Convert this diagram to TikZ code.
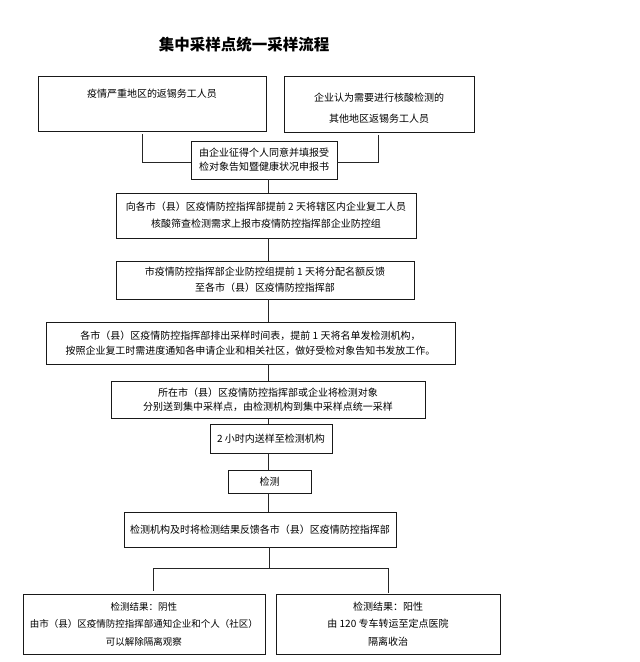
\documentclass[tikz,border=0pt]{standalone}
\usepackage{fontspec}
\setmainfont{Noto Sans CJK SC}
\def\bodyfont#1{\fontsize{10}{#1}\selectfont}
\begin{document}
\begin{tikzpicture}[x=1pt,y=-1pt,
  box/.style={draw=black!90, line width=0.8pt, align=center, inner sep=0pt, text=black, font=\bodyfont{16}},
  link/.style={draw=black!85, line width=0.8pt}]
\useasboundingbox (0,0) rectangle (640,662);
\node[font=\fontsize{15.5}{18}\selectfont\bfseries] (title) at (244,45) {集中采样点统一采样流程};

\node[box, minimum width=228, minimum height=55] (workers) at (152,103.5) {疫情严重地区的返锡务工人员\\\strut};
\node[box, minimum width=190, minimum height=56, font=\bodyfont{21}] (others) at (379,104) {\rule{0pt}{16pt}企业认为需要进行核酸检测的\\其他地区返锡务工人员};
\node[box, minimum width=146, minimum height=38, font=\bodyfont{14}] (consent) at (264,160) {由企业征得个人同意并填报受\\检对象告知暨健康状况申报书};
\node[box, minimum width=300, minimum height=45, font=\bodyfont{17}] (report) at (266,215.5) {向各市（县）区疫情防控指挥部提前 2 天将辖区内企业复工人员\\核酸筛查检测需求上报市疫情防控指挥部企业防控组};
\node[box, minimum width=298, minimum height=38] (quota) at (265,280) {市疫情防控指挥部企业防控组提前 1 天将分配名额反馈\\至各市（县）区疫情防控指挥部};
\node[box, minimum width=409, minimum height=42, font=\bodyfont{15}] (schedule) at (250.5,343) {各市（县）区疫情防控指挥部排出采样时间表，提前 1 天将名单发检测机构，\\按照企业复工时需进度通知各申请企业和相关社区，做好受检对象告知书发放工作。};
\node[box, minimum width=314, minimum height=37, font=\bodyfont{14}] (sampling) at (268,399.5) {所在市（县）区疫情防控指挥部或企业将检测对象\\分别送到集中采样点，由检测机构到集中采样点统一采样};
\node[box, minimum width=122, minimum height=29] (deliver) at (271,438.5) {2 小时内送样至检测机构};
\node[box, minimum width=83, minimum height=23] (test) at (269.5,481.5) {检测};
\node[box, minimum width=272, minimum height=35] (feedback) at (260,529.5) {检测机构及时将检测结果反馈各市（县）区疫情防控指挥部};
\node[box, minimum width=242, minimum height=60, font=\fontsize{9.5}{17.5}\selectfont] (negative) at (144,624) {检测结果：阴性\\由市（县）区疫情防控指挥部通知企业和个人（社区）\\可以解除隔离观察};
\node[box, minimum width=224, minimum height=60, font=\bodyfont{17.5}] (positive) at (388,624) {检测结果：阳性\\由 120 专车转运至定点医院\\隔离收治};

\coordinate (spine) at (268,0);
\coordinate (joinl) at (142,162);
\coordinate (joinr) at (378,162);
\coordinate (fork) at (269,568);
\coordinate (forkl) at (153,568);
\coordinate (forkr) at (388,568);

\draw[link, shorten <=3pt] (workers.south -| joinl) -- (joinl) -- (joinl -| consent.west);
\draw[link, shorten <=3pt] (others.south -| joinr) -- (joinr) -- (joinr -| consent.east);
\draw[link] (consent.south -| spine) -- (report.north -| spine);
\draw[link] (report.south -| spine) -- (quota.north -| spine);
\draw[link] (quota.south -| spine) -- (schedule.north -| spine);
\draw[link] (schedule.south -| spine) -- (sampling.north -| spine);
\draw[link] (sampling.south -| spine) -- (deliver.north -| spine);
\draw[link] (deliver.south -| spine) -- (test.north -| spine);
\draw[link] (test.south -| spine) -- (feedback.north -| spine);
\draw[link] (feedback.south -| fork) -- (fork);
\draw[link] (forkl) -- (forkr);
\draw[link, shorten >=3pt] (forkl) -- (forkl |- negative.north);
\draw[link, shorten >=1pt] (forkr) -- (forkr |- positive.north);
\end{tikzpicture}
\end{document}
